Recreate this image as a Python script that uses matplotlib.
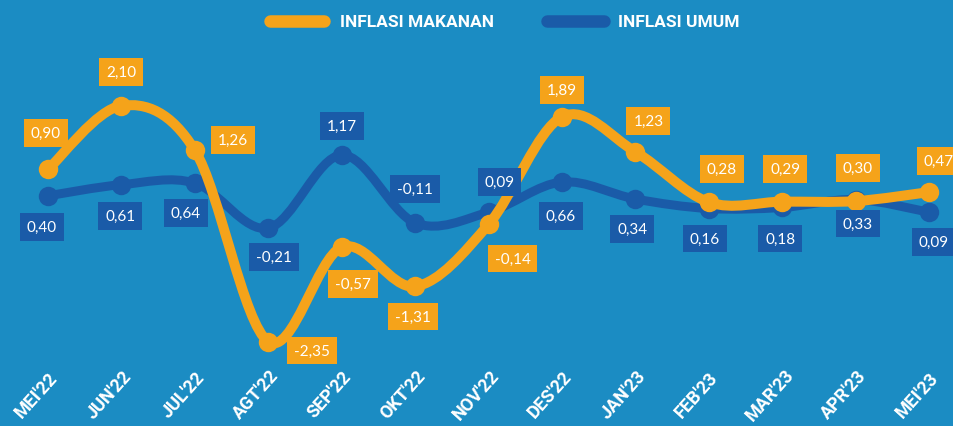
import numpy as np
import matplotlib
matplotlib.use("Agg")
import matplotlib.pyplot as plt
from matplotlib.path import Path
from matplotlib.patches import PathPatch
from matplotlib.lines import Line2D

# ---- data -------------------------------------------------------------
months = ["MEI'22", "JUN'22", "JUL'22", "AGT'22", "SEP'22", "OKT'22", "NOV'22",
          "DES'22", "JAN'23", "FEB'23", "MAR'23", "APR'23", "MEI'23"]
inflasi_makanan = [0.90, 2.10, 1.26, -2.35, -0.57, -1.31, -0.14,
                   1.89, 1.23, 0.28, 0.29, 0.30, 0.47]
inflasi_umum = [0.40, 0.61, 0.64, -0.21, 1.17, -0.11, 0.09,
                0.66, 0.34, 0.16, 0.18, 0.33, 0.09]

# label offsets in pixels (style only)
off_makanan = [(-2, 36), (0, 34), (38, 10), (44, -9), (11, -37), (-2, -30), (24, -34),
               (0, 27), (13, 31), (13, 33), (3, 33), (2, 33), (10, 31)]
off_umum = [(-6, -31), (-1, -31), (-9, -30), (6, -29), (0, 29), (0, 34), (11, 30),
            (-1, -34), (-3, -30), (-4, -30), (-2, -31), (2, -24), (5, -30)]

BG = "#1B8CC3"
ORANGE = "#F5A31A"
BLUE = "#1A5BA8"


def smooth_path(xs, ys):
    # catmull-rom -> cubic bezier segments
    pts = np.column_stack([xs, ys]).astype(float)
    ext = np.vstack([pts[0], pts, pts[-1]])
    verts = [tuple(pts[0])]
    codes = [Path.MOVETO]
    for i in range(len(pts) - 1):
        p0, p1, p2, p3 = ext[i], ext[i + 1], ext[i + 2], ext[i + 3]
        c1 = p1 + (p2 - p0) / 6.0
        c2 = p2 - (p3 - p1) / 6.0
        verts += [tuple(c1), tuple(c2), tuple(p2)]
        codes += [Path.CURVE4] * 3
    return Path(verts, codes)


fig = plt.figure(figsize=(9.54, 4.27), dpi=100, facecolor=BG)
ax = fig.add_axes([0, 0, 1, 1])
ax.set_facecolor(BG)
x = np.arange(len(months))

for vals, col, lw, z in [(inflasi_umum, BLUE, 9, 2), (inflasi_makanan, ORANGE, 10, 3)]:
    ax.add_patch(PathPatch(smooth_path(x, vals), facecolor="none", edgecolor=col,
                           lw=lw * 0.72, capstyle="round", joinstyle="round", zorder=z))
    ax.plot(x, vals, "o", ms=14, color=col, zorder=z, mec="none")

val_font = ["Lato", "DejaVu Sans"]
for vals, offs, col in [(inflasi_makanan, off_makanan, ORANGE), (inflasi_umum, off_umum, BLUE)]:
    for xi, v, (dx, dy) in zip(x, vals, offs):
        ax.annotate(f"{v:.2f}".replace(".", ","), (xi, v), xytext=(dx, dy),
                    textcoords="offset pixels", ha="center", va="center",
                    color="white", fontsize=11, family=val_font, zorder=5,
                    bbox=dict(boxstyle="square,pad=0.45", fc=col, ec="none"))

# month labels
lab_font = ["Roboto", "DejaVu Sans"]
for xi, m in zip(x, months):
    ax.annotate(m, (xi, 0), xycoords=("data", "axes fraction"), xytext=(-12, 32),
                textcoords="offset pixels", ha="center", va="center", rotation=48,
                color="white", fontsize=13, fontweight="bold", family=lab_font)

# legend
fig.add_artist(Line2D([0.283, 0.340], [0.948, 0.948], lw=9, color=ORANGE,
                      solid_capstyle="round", transform=fig.transFigure))
fig.text(0.356, 0.948, "INFLASI MAKANAN", color="white", fontsize=12.5, fontweight="bold",
         family=lab_font, va="center", ha="left")
fig.add_artist(Line2D([0.573, 0.633], [0.948, 0.948], lw=9, color=BLUE,
                      solid_capstyle="round", transform=fig.transFigure))
fig.text(0.648, 0.948, "INFLASI UMUM", color="white", fontsize=12.5, fontweight="bold",
         family=lab_font, va="center", ha="left")

ax.set_xlim(-0.654, 12.34)
ax.set_ylim(-3.943, 4.113)
ax.axis("off")

fig.savefig("out.png", dpi=100, facecolor=BG)
